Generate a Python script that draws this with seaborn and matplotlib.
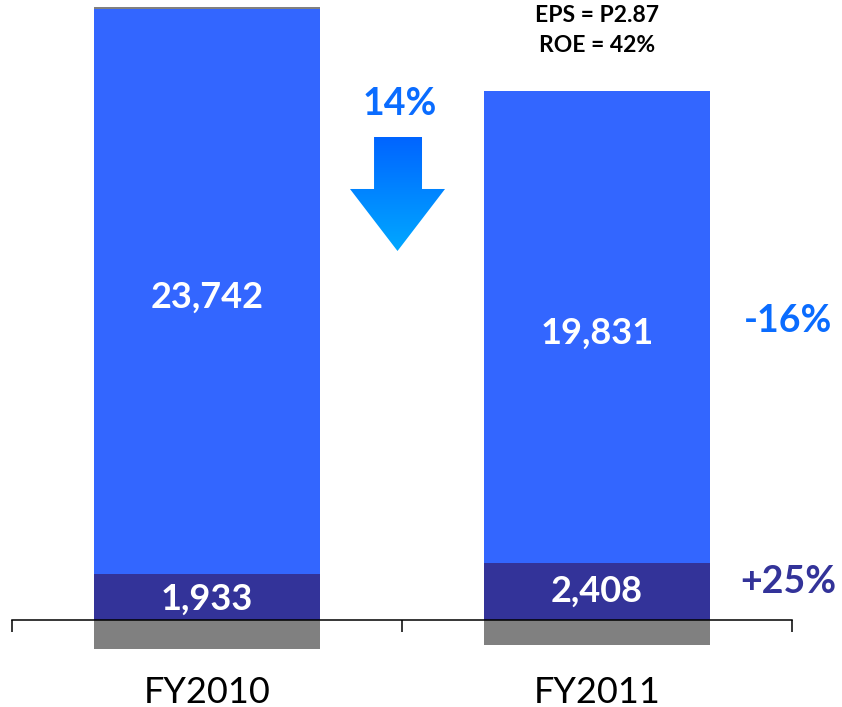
import numpy as np
import pandas as pd
import matplotlib
matplotlib.use("Agg")
import matplotlib.pyplot as plt
from matplotlib.colors import LinearSegmentedColormap
from matplotlib.patches import Polygon
from matplotlib.ticker import FixedLocator
import seaborn as sns

# ── Data ─────────────────────────────────────────────────────────────────────
years       = ["FY2010", "FY2011"]
core_income = [23742, 19831]        # blue segment
other_inc   = [1933, 2408]          # purple segment
top_sliver  = [100, 0]              # thin gray cap on FY2010
below_zero  = [-1220, -1040]        # gray segment under the axis
growth_lbl  = ["-16%", "+25%"]
drop_lbl    = "14%"
eps_lines   = ["EPS = P2.87", "ROE = 42%"]

BLUE   = "#3366FF"
PURPLE = "#333399"
GRAY   = "#808080"
TXT_BL = "#0A6CFF"

sns.set_theme(style="white")
plt.rcParams["font.family"] = ["Lato", "DejaVu Sans"]

df = pd.DataFrame({"year": years, "core": core_income, "other": other_inc,
                   "cap": top_sliver, "neg": below_zero})
df["lvl_other"] = df["other"]
df["lvl_core"]  = df["other"] + df["core"]
df["lvl_cap"]   = df["lvl_core"] + df["cap"]

fig = plt.figure(figsize=(8.42, 7.07), dpi=100)
ax = fig.add_axes([0, 0, 1, 1])

bw = 0.58
for col, colr in [("lvl_cap", GRAY), ("lvl_core", BLUE),
                  ("lvl_other", PURPLE), ("neg", GRAY)]:
    sns.barplot(data=df, x="year", y=col, color=colr, width=bw,
                saturation=1, linewidth=0, ax=ax, zorder=2)

ax.set_xlim(-0.531, 1.628)
ax.set_ylim(-3657, 26065)
ax.set_xlabel(""); ax.set_ylabel("")
ax.set_yticks([])
ax.grid(False)
for s in ["left", "right", "top"]:
    ax.spines[s].set_visible(False)
ax.spines["bottom"].set_position(("data", 0))
ax.spines["bottom"].set_bounds(-0.5, 1.5)
ax.spines["bottom"].set_color("black")
ax.spines["bottom"].set_linewidth(1.1)
ax.spines["bottom"].set_zorder(5)
ax.xaxis.set_minor_locator(FixedLocator([-0.5, 0.5, 1.5]))
ax.tick_params(axis="x", which="minor", length=8.6, width=1.1,
               color="black", direction="out", bottom=True)
ax.tick_params(axis="x", which="major", length=0, pad=40,
               labelsize=26, labelcolor="black")

# value labels inside the bars
for i, row in df.iterrows():
    ax.text(i, row["other"] + row["core"] / 2 - 250, f"{row['core']:,}",
            ha="center", va="center", color="white", fontsize=26,
            fontweight="bold", zorder=6)
    ax.text(i, row["other"] / 2 - 100 * (1 - i), f"{row['other']:,}",
            ha="center", va="center", color="white", fontsize=26,
            fontweight="bold", zorder=6)

# growth labels on the right
ax.text(1.49, df["lvl_core"][1] - df["core"][1] / 2 + 250, growth_lbl[0],
        ha="center", va="center", color=TXT_BL, fontsize=27,
        fontweight="bold")
ax.text(1.49, df["other"][1] / 2 + 400, growth_lbl[1],
        ha="center", va="center", color=PURPLE, fontsize=27,
        fontweight="bold")

# EPS / ROE note above FY2011
ax.text(1, 25420, eps_lines[0], ha="center", va="center",
        fontsize=16.5, fontweight="bold", color="black")
ax.text(1, 24150, eps_lines[1], ha="center", va="center",
        fontsize=16.5, fontweight="bold", color="black")

# percentage drop and gradient arrow
ax.text(0.495, 21700, drop_lbl, ha="center", va="center", color=TXT_BL,
        fontsize=27, fontweight="bold")

aax = fig.add_axes([350 / 842, (707 - 251) / 707, 95 / 842, 114 / 707])
aax.set_xlim(0, 1); aax.set_ylim(0, 1); aax.axis("off")
arrow = Polygon([[0.253, 1], [0.758, 1], [0.758, 0.544], [1, 0.544],
                 [0.5, 0], [0, 0.544], [0.253, 0.544]], closed=True,
                facecolor="none", edgecolor="none")
aax.add_patch(arrow)
cmap = LinearSegmentedColormap.from_list("arr", ["#00A8FF", "#0064FF"])
grad = np.linspace(0, 1, 256).reshape(-1, 1)
im = aax.imshow(grad, cmap=cmap, extent=[0, 1, 0, 1], origin="lower",
                aspect="auto")
im.set_clip_path(arrow)

fig.savefig("out.png", dpi=100)
